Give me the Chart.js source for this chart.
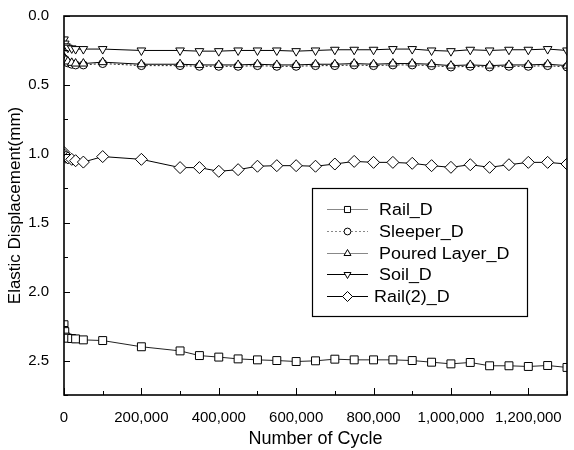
<!DOCTYPE html>
<html>
<head>
<meta charset="utf-8">
<script src="https://cdn.jsdelivr.net/npm/chart.js@4/dist/chart.umd.min.js"></script>
<style>
  html, body { margin: 0; padding: 0; background: #fff; }
  #wrap { width: 574px; height: 450px; }
</style>
</head>
<body>
<div id="wrap"><canvas id="c" width="574" height="450"></canvas></div>
<script>
// Load cycles at which elastic displacement was recorded
const cycles = [0, 2000, 5000, 10000, 20000, 30000, 50000, 100000, 200000, 300000,
  350000, 400000, 450000, 500000, 550000, 600000, 650000, 700000, 750000, 800000,
  850000, 900000, 950000, 1000000, 1050000, 1100000, 1150000, 1200000, 1250000, 1300000];

// Elastic displacement (mm) per component
const railD = [2.24, 2.29, 2.33, 2.338, 2.34, 2.343, 2.35, 2.355, 2.40, 2.43,
  2.464, 2.475, 2.488, 2.495, 2.50, 2.507, 2.502, 2.49, 2.495, 2.495,
  2.495, 2.50, 2.512, 2.524, 2.514, 2.538, 2.538, 2.543, 2.536, 2.55];
const sleeperD = [0.31, 0.32, 0.33, 0.34, 0.35, 0.355, 0.355, 0.345, 0.36, 0.36,
  0.365, 0.365, 0.365, 0.36, 0.365, 0.365, 0.36, 0.36, 0.355, 0.36,
  0.355, 0.355, 0.36, 0.37, 0.365, 0.37, 0.365, 0.365, 0.36, 0.37];
const pouredD = [0.30, 0.31, 0.32, 0.33, 0.34, 0.345, 0.345, 0.335, 0.35, 0.35,
  0.355, 0.355, 0.355, 0.35, 0.355, 0.355, 0.35, 0.35, 0.345, 0.35,
  0.345, 0.345, 0.35, 0.36, 0.355, 0.36, 0.355, 0.355, 0.35, 0.36];
const soilD = [0.17, 0.20, 0.22, 0.23, 0.235, 0.24, 0.24, 0.24, 0.25, 0.25,
  0.255, 0.255, 0.25, 0.25, 0.25, 0.255, 0.25, 0.245, 0.245, 0.245,
  0.24, 0.24, 0.25, 0.255, 0.245, 0.25, 0.245, 0.245, 0.24, 0.25];
const rail2D = [0.99, 1.01, 1.025, 1.03, 1.04, 1.05, 1.06, 1.02, 1.04, 1.10,
  1.10, 1.127, 1.115, 1.09, 1.086, 1.086, 1.09, 1.074, 1.055, 1.062,
  1.062, 1.069, 1.086, 1.098, 1.079, 1.098, 1.079, 1.062, 1.062, 1.074];

const seriesNames = ['Rail_D', 'Sleeper_D', 'Poured Layer_D', 'Soil_D', 'Rail(2)_D'];
const xTickLabels = ['0', '200,000', '400,000', '600,000', '800,000', '1,000,000', '1,200,000'];
const xTickStep = 200000;
const yTickStep = 0.5;

const isMultiple = (v, step) => Math.abs(v / step - Math.round(v / step)) < 1e-6;
const toPoints = vals => vals.map((v, i) => ({ x: cycles[i], y: v }));

const styles = [
  { pointStyle: 'rect', radius: 5.6, rotation: 0, line: '#222', dash: [], legendLine: '#888', legendRadius: 4.3 },
  { pointStyle: 'circle', radius: 4, rotation: 0, line: '#222', dash: [2, 2], legendLine: '#888', legendRadius: 3.4 },
  { pointStyle: 'triangle', radius: 5, rotation: 0, line: '#000', dash: [], legendLine: '#888', legendRadius: 4 },
  { pointStyle: 'triangle', radius: 5, rotation: 180, line: '#000', dash: [], legendLine: '#000', legendRadius: 4 },
  { pointStyle: 'rectRot', radius: 6, rotation: 0, line: '#000', dash: [], legendLine: '#000', legendRadius: 5 }
];
const seriesValues = [railD, sleeperD, pouredD, soilD, rail2D];

const datasets = seriesNames.map((name, i) => ({
  label: name,
  data: toPoints(seriesValues[i]),
  borderColor: styles[i].line,
  borderWidth: 1,
  borderDash: styles[i].dash,
  pointStyle: styles[i].pointStyle,
  pointRotation: styles[i].rotation,
  pointRadius: styles[i].radius,
  pointBackgroundColor: '#fff',
  pointBorderColor: '#000',
  pointBorderWidth: 1,
  tension: 0,
  clip: 0,
  order: name === 'Sleeper_D' ? 1 : 0
}));

// Frame, inward tick marks and the boxed legend
const framePlugin = {
  id: 'frame',
  afterDraw(chart) {
    const { ctx, chartArea: a, scales } = chart;
    ctx.save();
    ctx.strokeStyle = '#000';
    ctx.lineWidth = 1;
    // x ticks (major every 200k, minor every 100k)
    for (let v = 0; v <= 1300000; v += 100000) {
      const px = Math.round(scales.x.getPixelForValue(v)) + 0.5;
      const len = isMultiple(v, xTickStep) ? 7 : 4;
      ctx.beginPath(); ctx.moveTo(px, a.bottom); ctx.lineTo(px, a.bottom - len); ctx.stroke();
    }
    // y ticks (major every 0.5, minor every 0.25)
    for (let k = 0; k <= 11; k++) {
      const v = k * 0.25;
      const py = Math.round(scales.y.getPixelForValue(v)) + 0.5;
      const len = isMultiple(v, yTickStep) ? 6 : 4;
      ctx.beginPath(); ctx.moveTo(a.left, py); ctx.lineTo(a.left + len, py); ctx.stroke();
    }
    // plot frame
    ctx.lineWidth = 1.6;
    ctx.strokeRect(a.left, a.top, a.right - a.left, a.bottom - a.top);

    // legend
    const box = { x: 312, y: 188, w: 215, h: 128 };
    ctx.fillStyle = '#fff';
    ctx.fillRect(box.x, box.y, box.w, box.h);
    ctx.lineWidth = 1.2;
    ctx.strokeRect(box.x + 0.5, box.y + 0.5, box.w, box.h);
    ctx.font = '16px "Liberation Sans", Arial, sans-serif';
    ctx.textBaseline = 'alphabetic';
    ctx.textAlign = 'left';
    seriesNames.forEach((name, i) => {
      const cy = 209 + i * 21.8;
      const st = styles[i];
      ctx.strokeStyle = st.legendLine;
      ctx.lineWidth = 1;
      ctx.setLineDash(st.dash);
      ctx.beginPath(); ctx.moveTo(327, Math.round(cy) + 0.5); ctx.lineTo(368, Math.round(cy) + 0.5); ctx.stroke();
      ctx.setLineDash([]);
      ctx.fillStyle = '#fff';
      ctx.strokeStyle = '#000';
      Chart.helpers.drawPoint(ctx, {
        pointStyle: st.pointStyle, radius: st.legendRadius, rotation: st.rotation, borderWidth: 1
      }, 347.5, Math.round(cy) + 0.5);
      ctx.fillStyle = '#000';
      ctx.save();
      ctx.translate(i === 4 ? 374 : 379, cy + 6);
      ctx.scale(1.12, 1);
      ctx.fillText(name, 0, 0);
      ctx.restore();
    });
    ctx.restore();
  }
};

new Chart(document.getElementById('c'), {
  type: 'line',
  data: { datasets },
  options: {
    responsive: false,
    devicePixelRatio: 1,
    animation: false,
    layout: { padding: { top: 15, right: 1, left: 0, bottom: 0 } },
    plugins: { legend: { display: false }, tooltip: { enabled: false } },
    scales: {
      x: {
        type: 'linear',
        min: 0,
        max: 1300000,
        grid: { display: false },
        border: { display: false },
        afterFit(s) { s.height = 55; },
        afterBuildTicks(s) {
          s.ticks = xTickLabels.map((_, i) => ({ value: i * xTickStep }));
        },
        ticks: {
          autoSkip: false,
          maxRotation: 0,
          minRotation: 0,
          padding: 6,
          color: '#000',
          font: { family: '"Liberation Sans", Arial, sans-serif', size: 15 },
          callback: (v, i) => xTickLabels[i]
        },
        title: {
          display: true,
          text: 'Number of Cycle',
          color: '#000',
          font: { family: '"Liberation Sans", Arial, sans-serif', size: 18 },
          padding: { top: 0, bottom: 0 }
        }
      },
      y: {
        type: 'linear',
        reverse: true,
        min: 0,
        max: 2.75,
        grid: { display: false },
        border: { display: false },
        afterFit(s) { s.width = 64; },
        afterBuildTicks(s) {
          s.ticks = s.ticks.filter(t => isMultiple(t.value, yTickStep));
        },
        ticks: {
          stepSize: yTickStep,
          padding: 7,
          color: '#000',
          font: { family: '"Liberation Sans", Arial, sans-serif', size: 15 },
          callback: v => Number(v).toFixed(1)
        },
        title: {
          display: true,
          text: 'Elastic Displacement(mm)',
          color: '#000',
          font: { family: '"Liberation Sans", Arial, sans-serif', size: 17 },
          padding: { top: 5, bottom: 0 }
        }
      }
    }
  },
  plugins: [framePlugin]
});
</script>
</body>
</html>
